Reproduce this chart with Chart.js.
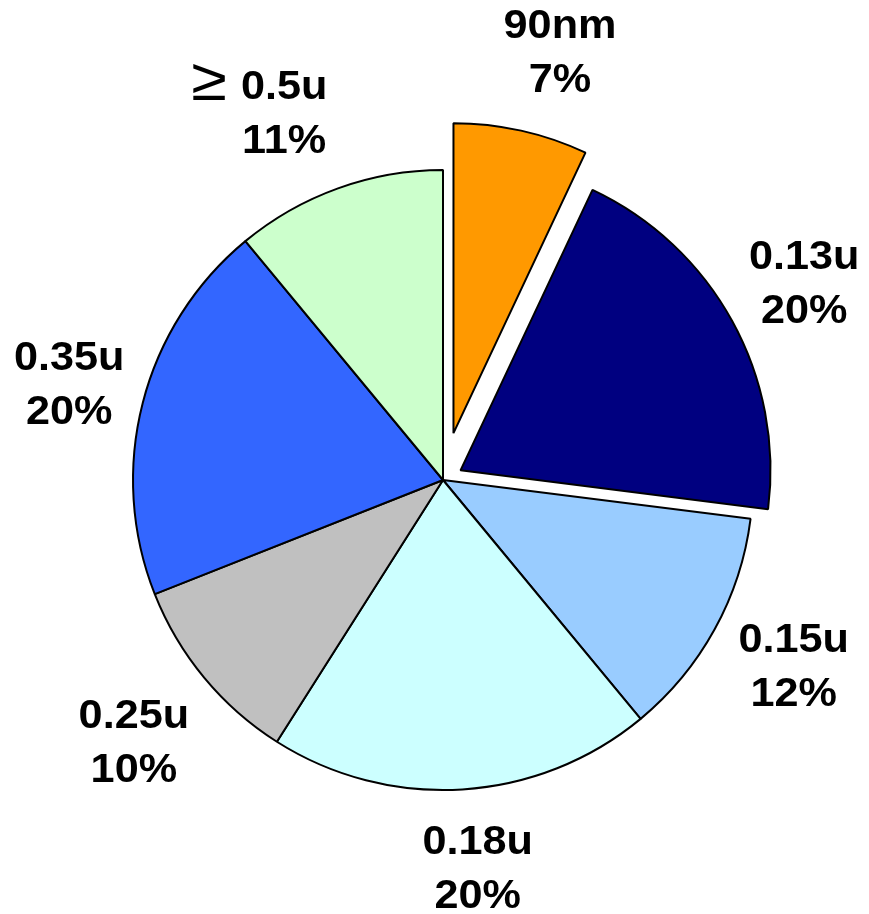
<!DOCTYPE html>
<html>
<head>
<meta charset="utf-8">
<script src="https://cdn.jsdelivr.net/npm/chart.js@4/dist/chart.umd.min.js"></script>
<style>
  html, body { margin: 0; padding: 0; background: #ffffff; }
  #wrap { width: 869px; height: 914px; }
</style>
</head>
<body>
<div id="wrap"><canvas id="pie" width="869" height="914"></canvas></div>
<script>
// Share of output by process node, clockwise from 12 o'clock
const nodes = ['90nm', '0.13u', '0.15u', '0.18u', '0.25u', '0.35u', '\u2265 0.5u'];
const shares = [7, 20, 12, 20, 10, 20, 11];
const sliceColors = ['#FF9900', '#000080', '#99CCFF', '#CCFFFF', '#C0C0C0', '#3366FF', '#CCFFCC'];
// how far each slice is pulled out of the pie, in pixels
const pullOutPx = [48, 20, 0, 0, 0, 0, 0];
// fine placement of each label block, in pixels
const labelNudge = [[21, 0], [0, 0], [7, -5], [10, -5], [-7, 10], [6, 0], [-26, 0]];

// Pull slices straight out along their middle angle, keeping their radius
const explode = {
  id: 'explode',
  afterDatasetUpdate(chart, args) {
    const meta = args.meta;
    meta.data.forEach((arc, i) => {
      const d = pullOutPx[i] || 0;
      if (!d) return;
      const mid = (arc.startAngle + arc.endAngle) / 2;
      arc.x += Math.cos(mid) * d;
      arc.y += Math.sin(mid) * d;
    });
  }
};

// Two-line labels (node name, percentage) placed outside each slice
const sliceLabels = {
  id: 'sliceLabels',
  afterDatasetsDraw(chart) {
    const ctx = chart.ctx;
    const meta = chart.getDatasetMeta(0);
    const values = chart.data.datasets[0].data;
    const total = values.reduce((a, b) => a + b, 0);
    const boldFont = 'bold 40px "Liberation Sans", Arial, sans-serif';
    const symFont = '300 60px "Liberation Sans", Arial, sans-serif';
    const stretch = 1.08;
    meta.data.forEach((arc, i) => {
      const mid = (arc.startAngle + arc.endAngle) / 2;
      const dist = arc.outerRadius * 1.265;
      const nudge = labelNudge[i] || [0, 0];
      const cx = arc.x + Math.cos(mid) * dist + nudge[0];
      const cy = arc.y + Math.sin(mid) * dist + nudge[1];
      const pct = Math.round(values[i] / total * 100) + '%';
      let name = chart.data.labels[i];
      let prefix = '';
      if (name.startsWith('\u2265')) {
        prefix = '\u2265';
        name = name.slice(1).trim();
      }
      ctx.save();
      ctx.fillStyle = '#000000';
      ctx.textBaseline = 'alphabetic';
      ctx.translate(cx, cy);
      ctx.scale(stretch, 1);
      ctx.font = boldFont;
      ctx.textAlign = 'center';
      ctx.fillText(name, 0, -12);
      ctx.fillText(pct, 0, 42);
      if (prefix) {
        const w = ctx.measureText(name).width;
        ctx.font = symFont;
        ctx.textAlign = 'right';
        ctx.fillText(prefix, -w / 2 - 13, -11);
      }
      ctx.restore();
    });
  }
};

new Chart(document.getElementById('pie'), {
  type: 'pie',
  data: {
    labels: nodes,
    datasets: [{
      data: shares,
      backgroundColor: sliceColors,
      borderColor: '#000000',
      borderWidth: 2,
      radius: 310
    }]
  },
  options: {
    responsive: false,
    animation: false,
    layout: { padding: { left: 17, top: 46, right: 0, bottom: 0 } },
    plugins: {
      legend: { display: false },
      tooltip: { enabled: false }
    }
  },
  plugins: [explode, sliceLabels]
});
</script>
</body>
</html>
